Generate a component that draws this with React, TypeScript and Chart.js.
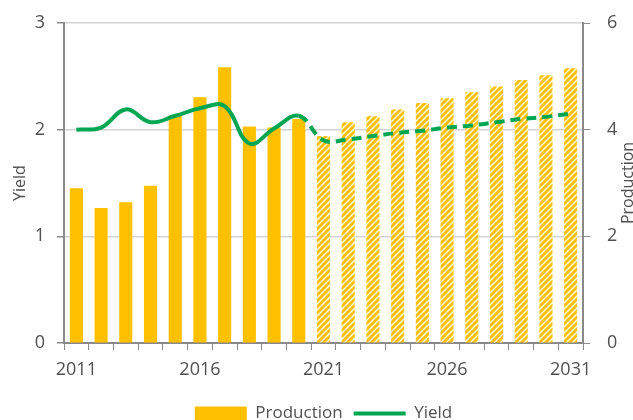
import React, { useEffect, useRef } from "react";
import { Chart, registerables } from "chart.js";

Chart.register(...registerables);

const years = ["2011","2012","2013","2014","2015","2016","2017","2018","2019","2020","2021","2022","2023","2024","2025","2026","2027","2028","2029","2030","2031"];
const production = [2.9, 2.53, 2.64, 2.95, 4.26, 4.61, 5.17, 4.06, 4.04, 4.2, 3.88, 4.14, 4.25, 4.38, 4.5, 4.59, 4.7, 4.81, 4.93, 5.02, 5.15];
const yieldValues = [2.0, 2.02, 2.19, 2.07, 2.13, 2.2, 2.22, 1.87, 2.01, 2.13, 1.9, 1.91, 1.94, 1.97, 1.99, 2.02, 2.04, 2.07, 2.1, 2.12, 2.15];
const firstForecastIndex = 10;

const YELLOW = "#FFC000";
const GREEN = "#00A651";
const TEXT = "#505050";
const AXIS = "#8a8a8a";
const FONT = "'Open Sans', sans-serif";

function makeHatch(): CanvasPattern | string {
  const s = 6;
  const c = document.createElement("canvas");
  c.width = s;
  c.height = s;
  const g = c.getContext("2d");
  if (!g) return YELLOW;
  g.fillStyle = "#ffffff";
  g.fillRect(0, 0, s, s);
  g.strokeStyle = YELLOW;
  g.lineWidth = 3;
  g.lineCap = "square";
  for (const k of [0, s, 2 * s]) {
    g.beginPath();
    g.moveTo(k - s - 1, s + 1);
    g.lineTo(k + 1, -1);
    g.stroke();
  }
  const p = g.createPattern(c, "repeat");
  return p || YELLOW;
}

const rightTitle = {
  id: "rightTitle",
  afterDraw(chart: any) {
    const { ctx, chartArea } = chart;
    ctx.save();
    ctx.translate(628, (chartArea.top + chartArea.bottom) / 2);
    ctx.rotate(-Math.PI / 2);
    ctx.textAlign = "center";
    ctx.textBaseline = "middle";
    ctx.fillStyle = TEXT;
    ctx.font = `16px ${FONT}`;
    ctx.fillText("Production", 0, 0);
    ctx.restore();
  },
};

const fixVPadding = (s: any) => {
  s.paddingTop = 8;
  s.paddingBottom = 8;
};

export default function App() {
  const ref = useRef<HTMLCanvasElement>(null);
  useEffect(() => {
    document.body.style.margin = "0";
    const hatch = makeHatch();
    const bg = production.map((_, i) => (i >= firstForecastIndex ? hatch : YELLOW));
    const chart = new Chart(ref.current as HTMLCanvasElement, {
      type: "bar",
      data: {
        labels: years,
        datasets: [
          {
            type: "bar",
            label: "Production",
            data: production,
            backgroundColor: bg as any,
            borderWidth: 0,
            yAxisID: "y1",
            barPercentage: 1,
            categoryPercentage: 0.53,
            order: 1,
          },
          {
            type: "line",
            label: "Yield",
            data: yieldValues,
            borderColor: GREEN,
            backgroundColor: GREEN,
            borderWidth: 4,
            pointRadius: 0,
            tension: 0.4,
            yAxisID: "y",
            order: 0,
            segment: {
              borderDash: (ctx: any) => (ctx.p0DataIndex >= firstForecastIndex - 1 ? [10, 6] : undefined),
            },
          } as any,
        ],
      },
      options: {
        animation: false,
        responsive: false,
        maintainAspectRatio: false,
        layout: { padding: { top: 23, left: 0, right: 0, bottom: 0 } },
        plugins: {
          tooltip: { enabled: false },
          legend: {
            position: "bottom",
            fullSize: false,
            labels: {
              usePointStyle: true,
              pointStyleWidth: 52,
              boxHeight: 14,
              padding: 11,
              color: TEXT,
              font: { family: FONT, size: 17 },
              generateLabels: () => [
                { text: "Production", fillStyle: YELLOW, strokeStyle: YELLOW, lineWidth: 0, pointStyle: "rect", datasetIndex: 0, fontColor: TEXT } as any,
                { text: "Yield", fillStyle: GREEN, strokeStyle: GREEN, lineWidth: 4, pointStyle: "line", datasetIndex: 1, fontColor: TEXT } as any,
              ],
            },
          },
        },
        scales: {
          x: {
            type: "category",
            offset: true,
            grid: { display: true, drawOnChartArea: false, drawTicks: true, tickLength: 7, color: AXIS, tickColor: AXIS, offset: true },
            border: { color: AXIS, width: 2 },
            ticks: {
              autoSkip: false,
              maxRotation: 0,
              padding: 9,
              color: TEXT,
              font: { family: FONT, size: 18 },
              callback: (_v: any, i: number) => (i % 5 === 0 ? years[i] : ""),
            },
            afterFit: (s: any) => { s.height = 51; },
          },
          y: {
            position: "left",
            min: 0,
            max: 3,
            ticks: { stepSize: 1, padding: 12, color: TEXT, font: { family: FONT, size: 18 } },
            grid: { color: "#d4d4d4", tickColor: AXIS, tickLength: 7, lineWidth: 1.5 },
            border: { color: AXIS, width: 2 },
            title: { display: true, text: "Yield", color: TEXT, font: { family: FONT, size: 16 }, padding: { top: 11, bottom: 0 } },
            afterFit: (s: any) => { s.width = 64; fixVPadding(s); },
          },
          y1: {
            position: "right",
            min: 0,
            max: 6,
            ticks: { stepSize: 2, padding: 17, color: TEXT, font: { family: FONT, size: 18 } },
            grid: { drawOnChartArea: false, tickColor: AXIS, tickLength: 7 },
            border: { color: AXIS, width: 2 },
            afterFit: (s: any) => { s.width = 50; fixVPadding(s); },
          },
        },
      },
      plugins: [rightTitle],
    });
    return () => chart.destroy();
  }, []);
  return (
    <div style={{ width: 633, height: 432, position: "relative" }}>
      <canvas ref={ref} width={633} height={432} style={{ display: "block" }} />
    </div>
  );
}
